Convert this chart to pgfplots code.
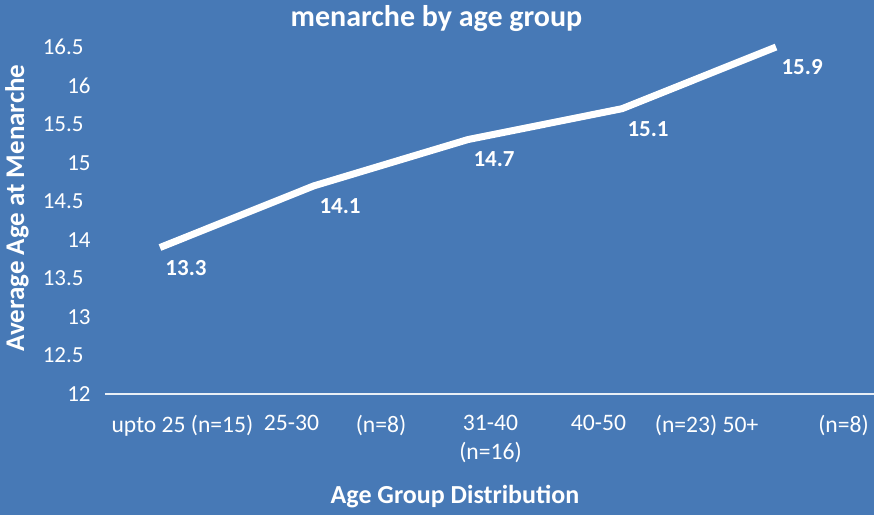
\documentclass[border=0pt]{standalone}
\usepackage{pgfplots}
\pgfplotsset{compat=1.18}
\usepackage{fontspec}
\setmainfont{Carlito}
\definecolor{bg}{RGB}{71,121,182}
\begin{document}
\begin{tikzpicture}[x=1pt,y=1pt]
\fill[bg] (0,0) rectangle (437,-257.5);
\begin{axis}[
  at={(52.5pt,-197pt)}, anchor=south west,
  scale only axis, width=384.5pt, height=173.5pt,
  xmin=-0.357, xmax=4.636, ymin=12, ymax=16.5,
  clip=false,
  axis x line=bottom, axis y line=left,
  x axis line style={-, draw=white!88!bg, line width=1.2pt},
  y axis line style={draw=none},
  major tick length=0pt,
  xtick={0.146,0.854,1.435,2.146,2.847,3.549,4.438},
  xticklabels={upto 25 (n=15), 25-30, (n=8), {31-40\\(n=16)}, 40-50, (n=23) 50+, (n=8)},
  xticklabel style={align=center, anchor=north, inner sep=0pt, yshift=-10.5pt, font=\fontsize{11.8}{14.5}\selectfont, text=white},
  ytick={12,12.5,13,13.5,14,14.5,15,15.5,16,16.5},
  yticklabels={12,12.5\kern3.5pt,13,13.5\kern3.5pt,14,14.5\kern3.5pt,15,15.5\kern3.5pt,16,16.5\kern3.5pt},
  yticklabel style={anchor=east, inner sep=0pt, xshift=-7pt, font=\fontsize{11.5}{13}\selectfont, text=white},
]
\addplot[white, line width=3.5pt, line join=round,
  nodes near coords, point meta=explicit symbolic,
  every node near coord/.append style={anchor=north west, inner sep=0pt, xshift=1pt, yshift=-4.5pt, font=\bfseries\fontsize{11.5}{13}\selectfont, text=white}]
  table[meta=label] {
x y label
0 13.9 13.3
1 14.7 14.1
2 15.3 14.7
3 15.7 15.1
4 16.5 15.9
};
\end{axis}
\node[font=\bfseries\fontsize{15}{18}\selectfont, text=white] at (218.25,-9.5) {menarche by age group};
\node[font=\bfseries\fontsize{13}{16}\selectfont, text=white] at (227.5,-248.5) {Age Group Distribution};
\node[font=\bfseries\fontsize{13.5}{16}\selectfont, text=white, rotate=90] at (8.5,-104) {Average Age at Menarche};
\pgfresetboundingbox
\path (0,0) rectangle (437,-257.5);
\end{tikzpicture}
\end{document}
